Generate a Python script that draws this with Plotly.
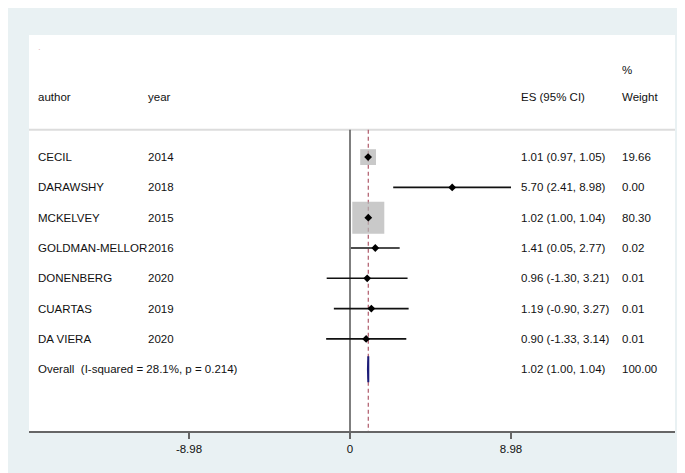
import plotly.graph_objects as go

# ---- data ----
authors = ["CECIL", "DARAWSHY", "MCKELVEY", "GOLDMAN-MELLOR", "DONENBERG", "CUARTAS", "DA VIERA"]
years = ["2014", "2018", "2015", "2016", "2020", "2019", "2020"]
es = [1.01, 5.70, 1.02, 1.41, 0.96, 1.19, 0.90]
ci_lo = [0.97, 2.41, 1.00, 0.05, -1.30, -0.90, -1.33]
ci_hi = [1.05, 8.98, 1.04, 2.77, 3.21, 3.27, 3.14]
weights = [19.66, 0.00, 80.30, 0.02, 0.01, 0.01, 0.01]
overall_es, overall_lo, overall_hi, overall_w = 1.02, 1.00, 1.04, 100.00
overall_label = "Overall  (I-squared = 28.1%, p = 0.214)"
tick_vals = [-8.98, 0, 8.98]
tick_text = ["-8.98", "0", "8.98"]

FONT = "Liberation Sans, Arial, Helvetica, sans-serif"
FS = 11.5
rows = list(range(len(authors)))
overall_row = len(authors)
header_line_y = -0.9
y_top, y_bot = -4.03, 9.04

fig = go.Figure()

# boxes (area proportional to weight)
fig.add_trace(go.Scatter(
    x=es, y=rows, mode="markers",
    marker=dict(symbol="square", size=[3.57 * (w ** 0.5) for w in weights],
                color="#b2b2b2", line=dict(width=0)),
    hoverinfo="skip", showlegend=False))

# CI lines
cx, cy = [], []
for r, a, b in zip(rows, ci_lo, ci_hi):
    cx += [a, b, None]
    cy += [r, r, None]
fig.add_trace(go.Scatter(x=cx, y=cy, mode="lines",
                         line=dict(color="#111111", width=1.6),
                         hoverinfo="skip", showlegend=False))

# point estimates
fig.add_trace(go.Scatter(x=es, y=rows, mode="markers",
                         marker=dict(symbol="diamond", size=6, color="black"),
                         hoverinfo="skip", showlegend=False))

# overall diamond
h = 0.43
fig.add_trace(go.Scatter(
    x=[overall_lo, overall_es, overall_hi, overall_es, overall_lo],
    y=[overall_row, overall_row - h, overall_row, overall_row + h, overall_row],
    mode="lines", fill="toself", fillcolor="#1c1c78",
    line=dict(color="#1c1c78", width=2),
    hoverinfo="skip", showlegend=False))

shapes = [
    # header separator
    dict(type="line", xref="paper", yref="y", x0=0, x1=1, y0=header_line_y, y1=header_line_y,
         line=dict(color="#dcdcdc", width=2), layer="below"),
    # no-effect line
    dict(type="line", xref="x", yref="y", x0=0, x1=0, y0=header_line_y, y1=y_bot,
         line=dict(color="#555555", width=1.5), layer="below"),
    # overall dashed line
    dict(type="line", xref="x", yref="y", x0=overall_es, x1=overall_es, y0=header_line_y, y1=y_bot,
         line=dict(color="#b05a6a", width=1.2, dash="4px,3px"), layer="below"),
]

def px(xp):
    return (xp - 21) / 646.0

ann = []
def txt(x, y, s, size=FS, color="#111111"):
    ann.append(dict(xref="paper", yref="y", x=x, y=y, text=s, showarrow=False,
                    xanchor="left", yanchor="middle",
                    font=dict(family=FONT, size=size, color=color)))

col_author, col_year, col_es, col_w = px(28), px(138), px(511), px(612)
txt(col_author, -1.98, "author")
txt(col_year, -1.98, "year")
txt(col_es, -1.98, "ES (95% CI)")
txt(col_w, -1.98, "Weight")
txt(col_w, -2.87, "%")
txt(px(28), -3.55, "·", size=8, color="#d9a0a0")

for r, a, yv, e, lo, hi, w in zip(rows, authors, years, es, ci_lo, ci_hi, weights):
    txt(col_author, r, a)
    txt(col_year, r, yv)
    txt(col_es, r, f"{e:.2f} ({lo:.2f}, {hi:.2f})")
    txt(col_w, r, f"{w:.2f}")

txt(col_author, overall_row, overall_label)
txt(col_es, overall_row, f"{overall_es:.2f} ({overall_lo:.2f}, {overall_hi:.2f})")
txt(col_w, overall_row, f"{overall_w:.2f}")

x_left = (21 - 342) / 17.93
x_right = (667 - 342) / 17.93

fig.update_layout(
    width=685, height=473,
    margin=dict(l=21, r=18, t=27, b=50),
    paper_bgcolor="#e9f1f3", plot_bgcolor="white",
    shapes=shapes, annotations=ann,
    font=dict(family=FONT, size=FS, color="#111111"),
    xaxis=dict(range=[x_left, x_right], tickvals=tick_vals, ticktext=tick_text,
               showgrid=False, zeroline=False, showline=True, linecolor="#666666",
               linewidth=2, ticks="outside", ticklen=6, tickcolor="#666666",
               tickwidth=1.5, tickfont=dict(family=FONT, size=FS, color="#111111")),
    yaxis=dict(range=[y_bot, y_top], showgrid=False, zeroline=False,
               showticklabels=False, showline=False, ticks=""),
)

fig.write_html("out.html")
